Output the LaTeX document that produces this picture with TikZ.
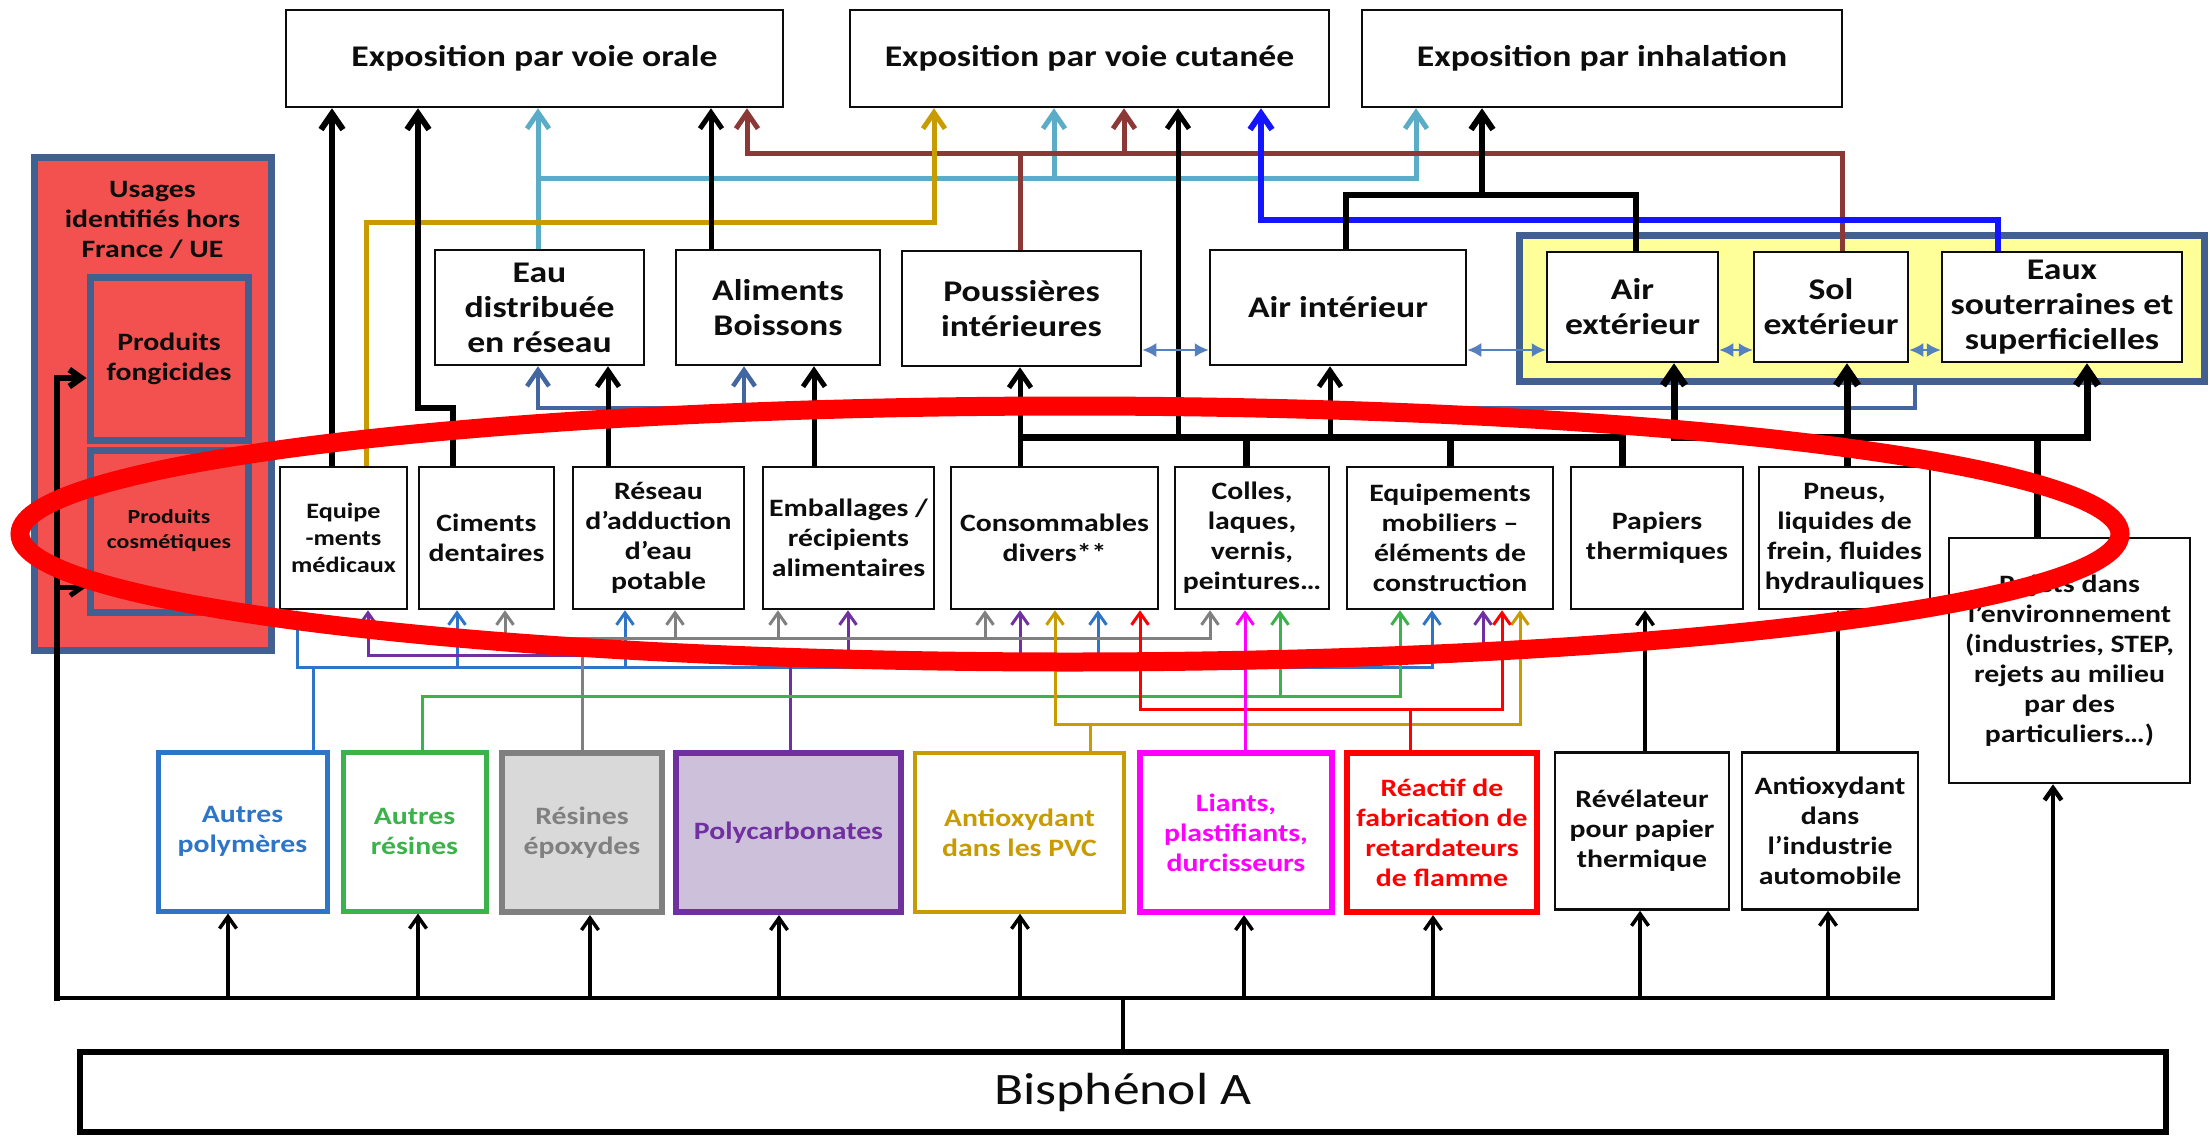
\documentclass[tikz,border=0pt]{standalone}
\usepackage{fontspec}
\setmainfont[FakeStretch=1.19]{Carlito}
\usetikzlibrary{arrows.meta}
\definecolor{cyanL}{RGB}{91,172,198}
\definecolor{brownL}{RGB}{140,56,54}
\definecolor{goldL}{RGB}{200,155,0}
\definecolor{blueL}{RGB}{20,20,255}
\definecolor{steelL}{RGB}{65,96,143}
\definecolor{steelA}{RGB}{68,102,160}
\definecolor{dblA}{RGB}{84,128,192}
\definecolor{salmonL}{RGB}{243,80,80}
\definecolor{yellowL}{RGB}{255,255,153}
\definecolor{polyB}{RGB}{46,117,199}
\definecolor{resG}{RGB}{59,178,74}
\definecolor{epoG}{RGB}{128,128,128}
\definecolor{epoF}{RGB}{217,217,217}
\definecolor{pcP}{RGB}{112,48,160}
\definecolor{pcF}{RGB}{204,192,218}
\definecolor{magL}{RGB}{255,0,255}
\definecolor{redL}{RGB}{255,0,0}
\definecolor{textK}{RGB}{13,13,13}
\begin{document}
\begin{tikzpicture}[x=1pt,y=-1pt,
  bx/.style={draw=textK, line width=2.5pt, fill=white, inner sep=0pt, align=center, text=textK},
  cbx/.style={line width=5pt, fill=white, inner sep=0pt, align=center},
  f30/.style={font=\bfseries\fontsize{30}{35}\selectfont},
  f25/.style={font=\bfseries\fontsize{25}{30}\selectfont},
  f22/.style={font=\bfseries\fontsize{22}{27}\selectfont},
  f20/.style={font=\bfseries\fontsize{20}{25}\selectfont},
  arrT/.style={-{Straight Barb[length=16pt,width=22pt]}},
  arrS/.style={-{Straight Barb[length=12pt,width=17pt]}},
  arrSS/.style={{Straight Barb[length=16pt,width=22pt]}-{Straight Barb[length=16pt,width=22pt]}},
  dbl/.style={dblA, line width=2pt, {Latex[length=14pt,width=14pt]}-{Latex[length=14pt,width=14pt]}},
  thickk/.style={black, line width=6pt},
  busk/.style={black, line width=7pt},
  medk/.style={black, line width=5pt},
  think/.style={black, line width=3.5pt},
  cyl/.style={cyanL, line width=5pt},
  brl/.style={brownL, line width=5pt},
  gdl/.style={goldL, line width=5pt},
  bll/.style={blueL, line width=6pt},
  sbl/.style={steelA, line width=4.5pt},
  lnblue/.style={polyB, line width=3pt},
  lngreen/.style={resG, line width=3pt},
  lngray/.style={epoG, line width=3pt},
  lnpurple/.style={pcP, line width=3pt},
  lngold/.style={goldL, line width=3pt},
  lnred/.style={redL, line width=3pt},
  lnmag/.style={magL, line width=3pt},
  hbar/.style={line cap=rect}
]
\useasboundingbox (0,0) rectangle (2210,1135);

% ---------- groups ----------
\node[draw=steelL, line width=7pt, fill=salmonL, minimum width=237pt, minimum height=493pt, inner sep=0pt] (hors) at (152.5,403.5) {};
\node[f25, text=textK, align=center] (usages) at (152.5,220) {Usages\\identifiés hors\\France / UE};
\node[draw=steelL, line width=7pt, fill=salmonL, minimum width=158pt, minimum height=163pt, inner sep=0pt, f25, text=textK, align=center] (fong) at (169,358.5) {Produits\\fongicides};
\node[draw=steelL, line width=7pt, fill=salmonL, minimum width=158pt, minimum height=162pt, inner sep=0pt, f20, text=textK, align=center] (cosm) at (169,531) {Produits\\cosmétiques};

\node[draw=steelL, line width=7pt, fill=yellowL, minimum width=685pt, minimum height=146pt, inner sep=0pt] (envgrp) at (1861.5,308) {};

% ---------- top ----------
\node[bx,f30,minimum width=497pt,minimum height=97pt] (oral) at (534.5,58.5) {Exposition par voie orale};
\node[bx,f30,minimum width=479pt,minimum height=97pt] (cut) at (1089.5,58.5) {Exposition par voie cutanée};
\node[bx,f30,minimum width=480pt,minimum height=97pt] (inh) at (1602,58.5) {Exposition par inhalation};

% ---------- upper middle ----------
\node[bx,f30,minimum width=209pt,minimum height=115pt] (eau) at (539.5,307.5) {Eau\\distribuée\\en réseau};
\node[bx,f30,minimum width=204pt,minimum height=115pt] (alim) at (778,307.5) {Aliments\\Boissons};
\node[bx,f30,minimum width=239pt,minimum height=115pt] (pouss) at (1021.5,308.5) {Poussières\\intérieures};
\node[bx,f30,minimum width=256pt,minimum height=115pt] (airint) at (1338,307.5) {Air intérieur};
\node[bx,f30,minimum width=171pt,minimum height=110pt] (airext) at (1632.5,307) {Air\\extérieur};
\node[bx,f30,minimum width=154pt,minimum height=110pt] (sol) at (1831,307) {Sol\\extérieur};
\node[bx,f30,minimum width=240pt,minimum height=110pt] (eaux) at (2062,307) {Eaux\\souterraines et\\superficielles};

% ---------- middle row ----------
\node[bx,f22,minimum width=127pt,minimum height=142pt] (equip) at (343.5,538) {Equipe\\-ments\\médicaux};
\node[bx,f25,minimum width=135pt,minimum height=142pt] (ciment) at (486.5,538) {Ciments\\dentaires};
\node[bx,f25,minimum width=171pt,minimum height=142pt] (reseau) at (658.5,538) {Réseau\\d’adduction\\d’eau\\potable};
\node[bx,f25,minimum width=171pt,minimum height=142pt] (emball) at (848.5,538) {Emballages /\\récipients\\alimentaires};
\node[bx,f25,minimum width=207pt,minimum height=142pt] (conso) at (1054.5,538) {Consommables\\divers**};
\node[bx,f25,minimum width=154pt,minimum height=142pt] (colles) at (1252,538) {Colles,\\laques,\\vernis,\\peintures…};
\node[bx,f25,minimum width=206pt,minimum height=142pt] (mobil) at (1450,538) {Equipements\\mobiliers –\\éléments de\\construction};
\node[bx,f25,minimum width=172pt,minimum height=142pt] (papier) at (1657,538) {Papiers\\thermiques};
\node[bx,f25,minimum width=171pt,minimum height=142pt] (pneus) at (1844.5,538) {Pneus,\\liquides de\\frein, fluides\\hydrauliques};
\node[bx,f25,minimum width=241pt,minimum height=245pt] (rejets) at (2069.5,660.5) {Rejets dans\\l’environnement\\(industries, STEP,\\rejets au milieu\\par des\\particuliers…)};

% ---------- bottom row ----------
\node[cbx,f25,draw=polyB,text=polyB,minimum width=169pt,minimum height=159pt] (apoly) at (242.5,831.5) {Autres\\polymères};
\node[cbx,f25,draw=resG,text=resG,minimum width=143pt,minimum height=159pt] (ares) at (414.5,831.5) {Autres\\résines};
\node[cbx,f25,draw=epoG,fill=epoF,text=epoG,line width=6pt,minimum width=160pt,minimum height=159pt] (epox) at (582,832.5) {Résines\\époxydes};
\node[cbx,f25,draw=pcP,fill=pcF,text=pcP,line width=6pt,minimum width=225pt,minimum height=159pt] (pcarb) at (788.5,832.5) {Polycarbonates};
\node[cbx,f25,draw=goldL,text=goldL,line width=3.5pt,minimum width=209pt,minimum height=159pt] (aoxpvc) at (1019.5,832.5) {Antioxydant\\dans les PVC};
\node[cbx,f25,draw=magL,text=magL,line width=6pt,minimum width=192pt,minimum height=159pt] (liants) at (1236,832.5) {Liants,\\plastifiants,\\durcisseurs};
\node[cbx,f25,draw=redL,text=redL,line width=6pt,minimum width=190pt,minimum height=159pt] (reactif) at (1442,832.5) {Réactif de\\fabrication de\\retardateurs\\de flamme};
\node[bx,f25,minimum width=174pt,minimum height=157pt] (revel) at (1642,831) {Révélateur\\pour papier\\thermique};
\node[bx,f25,minimum width=176pt,minimum height=157pt] (aoxauto) at (1830,831) {Antioxydant\\dans\\l’industrie\\automobile};

\node[draw=black, line width=6pt, fill=white, inner sep=0pt, minimum width=2086pt, minimum height=80pt, text=textK, font=\fontsize{45}{50}\selectfont] (bpa) at (1123,1092) {Bisphénol A};

% ---------- top connectors ----------
\draw[cyl,arrT] (538,0 |- eau.north) -- (538,0 |- oral.south);
\draw[cyl,arrT] (538,178) -| (1416,0 |- inh.south);
\draw[cyl,arrT] (1054,178) -- (1054,0 |- cut.south);

\draw[brl] (1020,0 |- pouss.north) -- (1020,153);
\draw[brl,arrT] (1842,0 |- sol.north) |- (747,153) -- (747,0 |- oral.south);
\draw[brl,arrT] (1124,153) -- (1124,0 |- cut.south);

\draw[gdl,arrT] (366,0 |- equip.north) |- (934,222) -- (934,0 |- cut.south);
\draw[bll,arrT] (1998,0 |- eaux.north) |- (1261,220) -- (1261,0 |- cut.south);

\draw[thickk] (1346,0 |- airint.north) |- (1636,195) -- (1636,0 |- airext.north);
\draw[thickk,arrT] (1482,195) -- (1482,0 |- inh.south);

\draw[thickk,arrT] (332,0 |- equip.north) -- (332,0 |- oral.south);
\draw[thickk,arrT] (453,0 |- ciment.north) |- (418,408) -- (418,0 |- oral.south);
\draw[medk,arrT] (711,0 |- alim.north) -- (711,0 |- oral.south);

% steel blue from environment
\draw[sbl,arrT] (1915,0 |- envgrp.south) |- (538,408) -- (538,0 |- eau.south);
\draw[sbl,arrT] (744,408) -- (744,0 |- alim.south);

% black middle
\draw[medk,arrT] (608,0 |- reseau.north) -- (608,0 |- eau.south);
\draw[medk,arrT] (814,0 |- emball.north) -- (814,0 |- alim.south);

\draw[busk] (1020,437) -- (1622,437) -- (1622,0 |- papier.north);
\draw[medk,arrT] (1020,0 |- conso.north) -- (1020,0 |- pouss.south);
\draw[busk] (1246,0 |- colles.north) -- (1246,437);
\draw[busk] (1450,0 |- mobil.north) -- (1450,437);
\draw[medk,arrT] (1330,437) -- (1330,0 |- airint.south);
\draw[medk,arrT] (1178,437) -- (1178,0 |- cut.south);

\draw[busk,arrSS] (1674,0 |- airext.south) -- (1674,437) -- (2087,437) -- (2087,0 |- eaux.south);
\draw[busk,arrT] (1847,0 |- pneus.north) -- (1847,0 |- sol.south);
\draw[busk] (2037,0 |- rejets.north) -- (2037,437);

% double arrows
\draw[dbl] (pouss.east |- 0,350) -- (airint.west |- 0,350);
\draw[dbl] (airint.east |- 0,350) -- (airext.west |- 0,350);
\draw[dbl] (airext.east |- 0,350) -- (sol.west |- 0,350);
\draw[dbl] (sol.east |- 0,350) -- (eaux.west |- 0,350);

% ---------- coloured band ----------
\draw[lnblue] (313,0 |- apoly.north) -- (313,667);
\draw[lnblue,hbar] (297,667) -- (1432,667);
\foreach \x/\n in {297/equip,457/ciment,625/reseau,1098/conso,1432/mobil}
  \draw[lnblue,arrS] (\x,667) -- (\x,0 |- \n.south);

\draw[lnpurple] (790,0 |- pcarb.north) -- (790,655);
\draw[lnpurple,hbar] (368,655) -- (1483,655);
\foreach \x/\n in {368/equip,848/emball,1020/conso,1483/mobil}
  \draw[lnpurple,arrS] (\x,655) -- (\x,0 |- \n.south);

\draw[lngray] (582,0 |- epox.north) -- (582,638);
\draw[lngray,hbar] (505,638) -- (1210,638);
\foreach \x/\n in {505/ciment,675/reseau,778/emball,985/conso,1210/colles}
  \draw[lngray,arrS] (\x,638) -- (\x,0 |- \n.south);

\draw[lngreen] (422,0 |- ares.north) -- (422,696);
\draw[lngreen,hbar] (422,696) -- (1400,696);
\foreach \x/\n in {1280/colles,1400/mobil}
  \draw[lngreen,arrS] (\x,696) -- (\x,0 |- \n.south);

\draw[lngold] (1090,0 |- aoxpvc.north) -- (1090,724);
\draw[lngold,hbar] (1055,724) -- (1520,724);
\foreach \x/\n in {1055/conso,1520/mobil}
  \draw[lngold,arrS] (\x,724) -- (\x,0 |- \n.south);

\draw[lnred] (1410,0 |- reactif.north) -- (1410,709);
\draw[lnred,hbar] (1140,709) -- (1502,709);
\foreach \x/\n in {1140/conso,1502/mobil}
  \draw[lnred,arrS] (\x,709) -- (\x,0 |- \n.south);

\draw[lnmag,arrS] (1245,0 |- liants.north) -- (1245,0 |- colles.south);

\draw[think,arrS] (1645,0 |- revel.north) -- (1645,0 |- papier.south);
\draw[think,arrS] (1838,0 |- aoxauto.north) -- (1838,0 |- pneus.south);

% ---------- bottom bus ----------
\draw[black,line width=4.5pt,arrS] (57,998) -- (2053,998) -- (2053,0 |- rejets.south);
\draw[thickk,arrS] (57,1001) |- (fong.west |- 0,378);
\draw[medk,arrS] (57,587) -- (cosm.west |- 0,587);
\foreach \x/\n in {228/apoly,418/ares,590/epox,779/pcarb,1020/aoxpvc,1244/liants,1433/reactif,1640/revel,1828/aoxauto}
  \draw[think,arrS] (\x,998) -- (\x,0 |- \n.south);
\draw[think] (1123,998) -- (1123,0 |- bpa.north);

% ---------- red ellipse ----------
\draw[redL, line width=19pt] (1070,534) ellipse [x radius=1050pt, y radius=128pt];
\end{tikzpicture}
\end{document}
